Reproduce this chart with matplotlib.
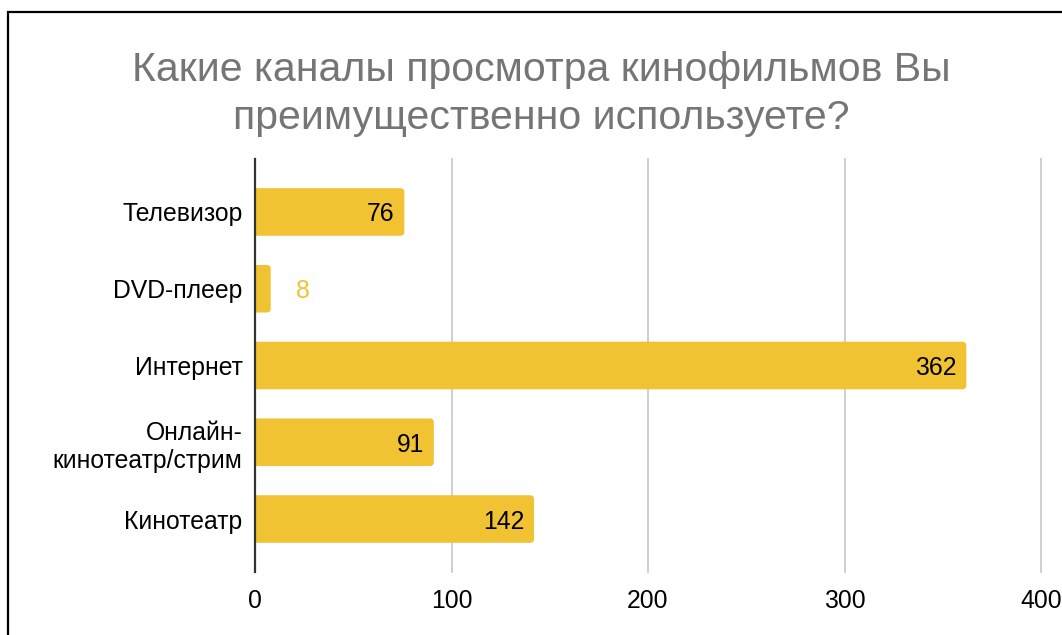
import matplotlib
matplotlib.use("Agg")
import matplotlib.pyplot as plt
from matplotlib.patches import FancyBboxPatch, Rectangle

categories = ["Телевизор", "DVD-плеер", "Интернет", "Онлайн-\nкинотеатр/стрим", "Кинотеатр"]
values = [76, 8, 362, 91, 142]
xticks = [0, 100, 200, 300, 400]
title = "Какие каналы просмотра кинофильмов Вы\nпреимущественно используете?"

BAR = "#F1C232"
plt.rcParams['font.family'] = ['Liberation Sans', 'DejaVu Sans']

W, H = 1062, 635
fig = plt.figure(figsize=(W / 100, H / 100), dpi=100)
ax = fig.add_axes([255 / W, 1 - 572 / H, (1041 - 255) / W, (572 - 159) / H])

ypos = list(range(len(categories)))
bars = ax.barh(ypos, values, height=0.62, color=BAR, zorder=3)
ax.set_ylim(len(categories) - 0.31, -0.69)
ax.set_xlim(0, 400)

# rounded right corners
xpp = 400 / 786
ypp = (len(categories) - 0.31 + 0.69) / 413
for b in bars:
    x, y, w, h = b.get_x(), b.get_y(), b.get_width(), b.get_height()
    b.set_visible(False)
    p = FancyBboxPatch((x - 10 * xpp, y), w + 10 * xpp, h,
                       boxstyle=f"round,pad=0,rounding_size={4 * xpp}",
                       mutation_aspect=ypp / xpp, facecolor=BAR, edgecolor='none',
                       zorder=3, clip_on=True)
    ax.add_patch(p)

FS = 17.8
for yi, v in zip(ypos, values):
    if v >= 20:
        ax.annotate(str(v), (v, yi), xytext=(-7, 0), textcoords='offset points',
                    ha='right', va='center_baseline', fontsize=FS, color='#000000', zorder=4)
    else:
        ax.annotate(str(v), (v, yi), xytext=(18, 0), textcoords='offset points',
                    ha='left', va='center_baseline', fontsize=FS, color=BAR, zorder=4)

ax.set_yticks(ypos)
ax.set_yticklabels(categories, fontsize=FS, linespacing=1.2)
ax.set_xticks(xticks)
ax.set_xticklabels([str(t) for t in xticks], fontsize=FS)
ax.tick_params(axis='both', length=0)
ax.tick_params(axis='y', pad=9)
ax.tick_params(axis='x', pad=12)
for s in ax.spines.values():
    s.set_visible(False)
ax.axvline(0, color='#333333', lw=1.6, zorder=5, clip_on=False)
for t in xticks[1:]:
    ax.axvline(t, color='#CCCCCC', lw=1.3, zorder=1, clip_on=False)

fig.text(541 / W, 1 - 70 / H, title.split("\n")[0], ha='center', va='center',
         fontsize=29.5, color='#757575')
fig.text(541 / W, 1 - 118 / H, title.split("\n")[1], ha='center', va='center',
         fontsize=29.5, color='#757575')

border = Rectangle((8 / W, -0.5), 1.5, 1.5 - 12 / H, transform=fig.transFigure,
                   fill=False, edgecolor='black', lw=1.6)
fig.patches.append(border)

fig.savefig("out.png", dpi=100)
